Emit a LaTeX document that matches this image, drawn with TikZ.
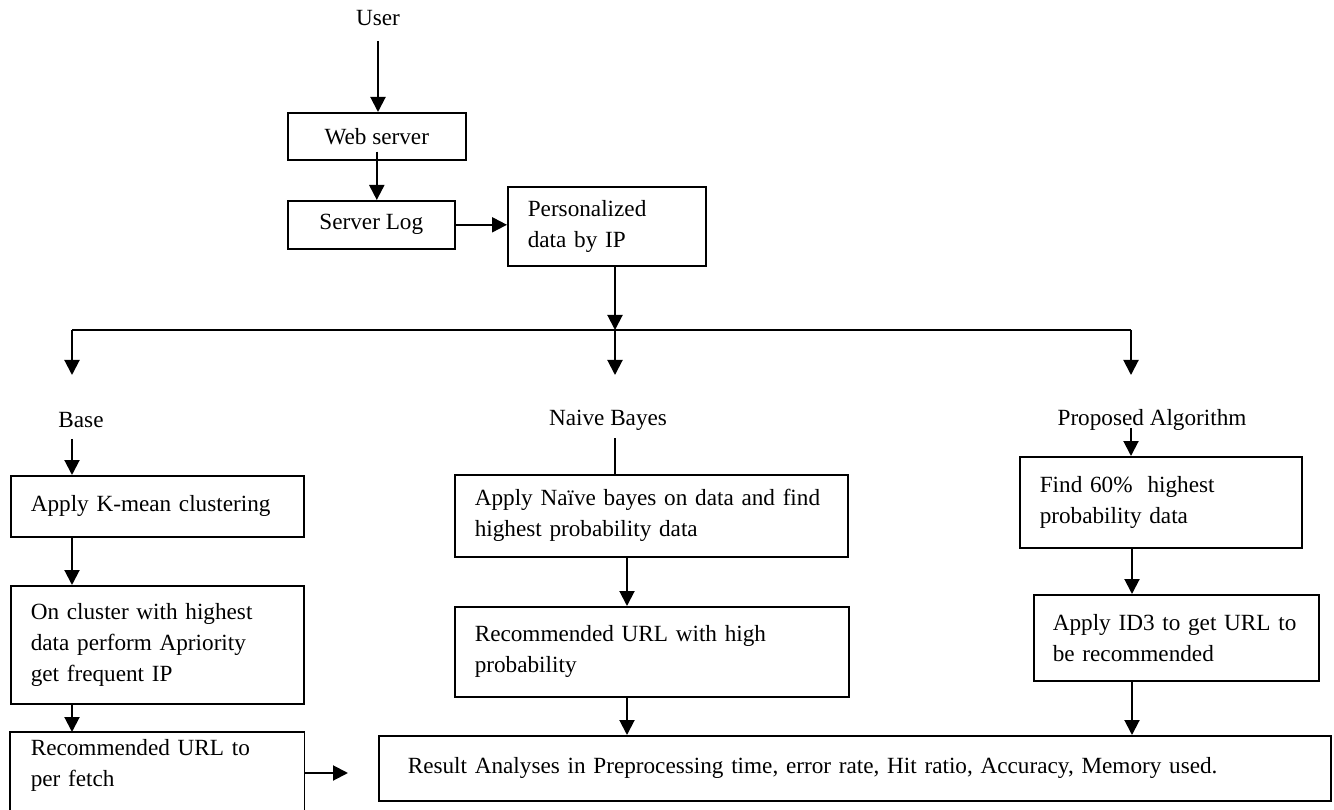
\documentclass[tikz,border=0pt]{standalone}
\usepackage{fontspec}
\setmainfont{Liberation Serif}
\usetikzlibrary{arrows.meta}
\begin{document}
\begin{tikzpicture}[x=1pt,y=-1pt,
  every node/.style={font=\fontsize{23.2}{31}\selectfont},
  stage/.style={draw, line width=1.6pt, anchor=north west, inner xsep=20pt, inner ysep=0pt, align=left},
  heading/.style={inner sep=0pt},
  conn/.style={line width=2pt},
  arr/.style={conn, -{Triangle[length=15pt,width=15pt]}}]

\fill[white] (0,0) rectangle (1334,810);
\useasboundingbox (0,0) rectangle (1334,810);

% top chain
\node[heading] (user) at (378,18) {User};
\node[stage, align=center, minimum width=178pt, minimum height=47pt] (web) at (287,112) {Web server};
\node[stage, align=center, minimum width=167pt, minimum height=48pt] (log) at (287,200) {Server Log};
\node[stage, text width=158pt, minimum height=79pt] (pers) at (507,186) {Personalized\\data by IP};

% column headings
\node[heading] (base) at (81,420) {Base};
\node[heading] (nb) at (608,420) {Naive Bayes};
\node[heading] (prop) at (1152,420) {Proposed Algorithm};

% base column
\node[stage, text width=253pt, minimum height=61pt] (kmean) at (10,475) {Apply K-mean clustering};
\node[stage, text width=253pt, minimum height=118pt] (clus) at (10,585) {On cluster with highest\\data perform Apriority\\get frequent IP};
\node[stage, draw=none, text width=253pt, minimum height=66pt] (fetch) at (10,732) {Recommended URL to\\per fetch};
\draw[line width=1.6pt] (fetch.west |- 0,815) -- (fetch.north west) -- (fetch.north east) -- (fetch.east |- 0,815);

% naive bayes column
\node[stage, text width=353pt, minimum height=82pt] (naive) at (454,474) {Apply Naïve bayes on data and find\\highest probability data};
\node[stage, text width=354pt, minimum height=90pt] (rec) at (454,606) {Recommended URL with high\\probability};

% proposed column
\node[stage, text width=242pt, minimum height=91pt] (find) at (1019,456) {Find 60\%\hspace{15pt}highest\\probability data};
\node[stage, inner xsep=19pt, text width=247pt, minimum height=86pt] (id3) at (1033,594) {Apply ID3 to get URL to\\be recommended};

% result
\node[stage, inner xsep=29pt, text width=894pt, minimum height=65pt] (res) at (378,735) {Result Analyses in Preprocessing time, error rate, Hit ratio, Accuracy, Memory used.};

% routing points
\coordinate (hub) at (615,330);
\coordinate (busL) at (72,330);
\coordinate (busR) at (1131,330);
\coordinate (tipA) at (72,375);
\coordinate (tipB) at (615,375);
\coordinate (tipC) at (1131,375);
\coordinate (outF) at (348,773);
\coordinate (colB) at (627,0);
\coordinate (colC) at (1132,0);

% connectors
\draw[arr, shorten <=15pt] (user.south) -- (user.south |- web.north);
\draw[arr] ([yshift=9pt]web.south) -- (web.south |- log.north);
\draw[arr] (log.east) -- (log.east -| pers.west);
\draw[arr] (pers.south -| hub) -- (hub);
\draw[conn] (busL) -- (busR);
\draw[arr] (busL) -- (tipA);
\draw[arr] (hub) -- (tipB);
\draw[arr] (busR) -- (tipC);

\draw[arr, shorten <=11pt] (base.south -| tipA) -- (tipA |- kmean.north);
\draw[arr] (kmean.south -| tipA) -- (tipA |- clus.north);
\draw[arr] (clus.south -| tipA) -- (tipA |- fetch.north);
\draw[arr] (fetch.east |- outF) -- (outF);

\draw[conn, shorten <=8pt] (nb.south -| hub) -- (hub |- naive.north);
\draw[arr] (naive.south -| colB) -- (colB |- rec.north);
\draw[arr] (rec.south -| colB) -- (colB |- res.north);

\draw[arr, shorten <=-3pt] (prop.south -| busR) -- (busR |- find.north);
\draw[arr] (find.south -| colC) -- (colC |- id3.north);
\draw[arr] (id3.south -| colC) -- (colC |- res.north);
\end{tikzpicture}
\end{document}
